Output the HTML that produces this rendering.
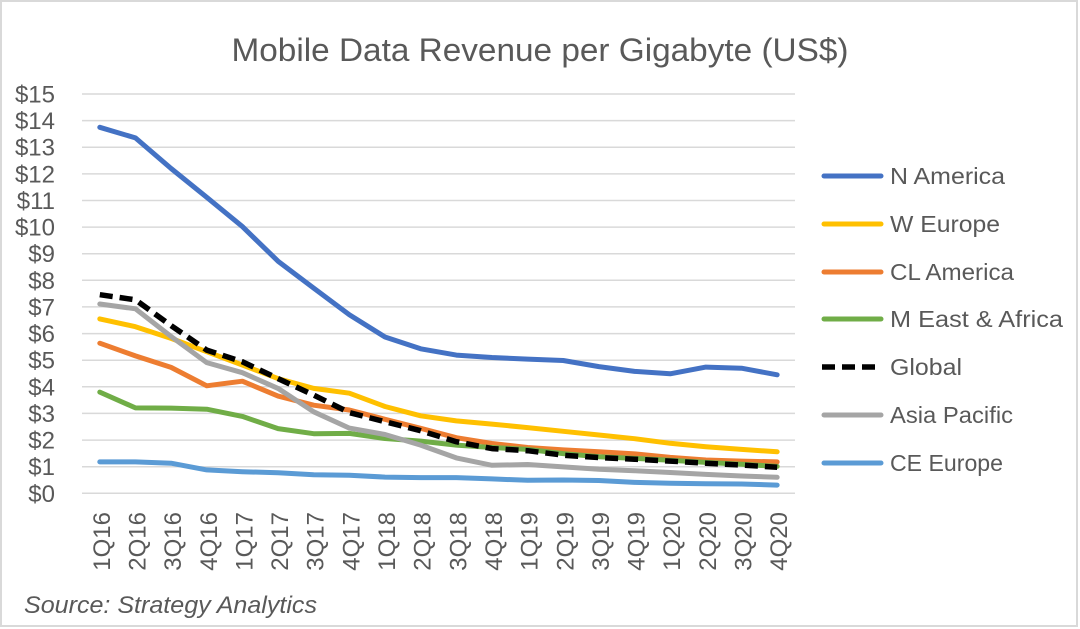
<!DOCTYPE html>
<html>
<head>
<meta charset="utf-8">
<style>
  html, body { margin: 0; padding: 0; background: #ffffff; }
  svg { display: block; }
  text { font-family: "Liberation Sans", sans-serif; fill: #595959; }
</style>
</head>
<body>
<svg width="1080" height="629" viewBox="0 0 1080 629" xmlns="http://www.w3.org/2000/svg">
  <rect x="0" y="0" width="1080" height="629" fill="#ffffff"/>
  <rect x="1" y="1" width="1076" height="625" fill="none" stroke="#d9d9d9" stroke-width="2"/>

  <!-- Title -->
  <text x="540" y="61" font-size="32" text-anchor="middle" textLength="617" lengthAdjust="spacingAndGlyphs">Mobile Data Revenue per Gigabyte (US$)</text>

  <!-- Gridlines -->
  <g stroke="#d9d9d9" stroke-width="1.5">
    <line x1="82" x2="795" y1="493.3" y2="493.3"/>
    <line x1="82" x2="795" y1="466.7" y2="466.7"/>
    <line x1="82" x2="795" y1="440.1" y2="440.1"/>
    <line x1="82" x2="795" y1="413.4" y2="413.4"/>
    <line x1="82" x2="795" y1="386.8" y2="386.8"/>
    <line x1="82" x2="795" y1="360.2" y2="360.2"/>
    <line x1="82" x2="795" y1="333.6" y2="333.6"/>
    <line x1="82" x2="795" y1="306.9" y2="306.9"/>
    <line x1="82" x2="795" y1="280.3" y2="280.3"/>
    <line x1="82" x2="795" y1="253.7" y2="253.7"/>
    <line x1="82" x2="795" y1="227.1" y2="227.1"/>
    <line x1="82" x2="795" y1="200.5" y2="200.5"/>
    <line x1="82" x2="795" y1="173.9" y2="173.9"/>
    <line x1="82" x2="795" y1="147.2" y2="147.2"/>
    <line x1="82" x2="795" y1="120.6" y2="120.6"/>
    <line x1="82" x2="795" y1="94.0" y2="94.0"/>
  </g>

  <!-- Y labels -->
  <g font-size="24" text-anchor="end">
    <text x="55" y="501.8">$0</text>
    <text x="55" y="475.2">$1</text>
    <text x="55" y="448.6">$2</text>
    <text x="55" y="421.9">$3</text>
    <text x="55" y="395.3">$4</text>
    <text x="55" y="368.7">$5</text>
    <text x="55" y="342.1">$6</text>
    <text x="55" y="315.4">$7</text>
    <text x="55" y="288.8">$8</text>
    <text x="55" y="262.2">$9</text>
    <text x="55" y="235.6">$10</text>
    <text x="55" y="209.0">$11</text>
    <text x="55" y="182.4">$12</text>
    <text x="55" y="155.7">$13</text>
    <text x="55" y="129.1">$14</text>
    <text x="55" y="102.5">$15</text>
  </g>

  <!-- X labels -->
  <g font-size="24" text-anchor="end">
    <text transform="translate(109.8,512) rotate(-90)">1Q16</text>
    <text transform="translate(145.45,512) rotate(-90)">2Q16</text>
    <text transform="translate(181.1,512) rotate(-90)">3Q16</text>
    <text transform="translate(216.75,512) rotate(-90)">4Q16</text>
    <text transform="translate(252.4,512) rotate(-90)">1Q17</text>
    <text transform="translate(288.05,512) rotate(-90)">2Q17</text>
    <text transform="translate(323.7,512) rotate(-90)">3Q17</text>
    <text transform="translate(359.35,512) rotate(-90)">4Q17</text>
    <text transform="translate(395.0,512) rotate(-90)">1Q18</text>
    <text transform="translate(430.65,512) rotate(-90)">2Q18</text>
    <text transform="translate(466.3,512) rotate(-90)">3Q18</text>
    <text transform="translate(501.95,512) rotate(-90)">4Q18</text>
    <text transform="translate(537.6,512) rotate(-90)">1Q19</text>
    <text transform="translate(573.25,512) rotate(-90)">2Q19</text>
    <text transform="translate(608.9,512) rotate(-90)">3Q19</text>
    <text transform="translate(644.55,512) rotate(-90)">4Q19</text>
    <text transform="translate(680.2,512) rotate(-90)">1Q20</text>
    <text transform="translate(715.85,512) rotate(-90)">2Q20</text>
    <text transform="translate(751.5,512) rotate(-90)">3Q20</text>
    <text transform="translate(787.15,512) rotate(-90)">4Q20</text>
  </g>

  <!-- Series -->
  <g fill="none" stroke-width="5" stroke-linejoin="round" stroke-linecap="round">
    <!-- N America -->
    <polyline stroke="#4472C4" points="99.8,127.3 135.45,137.9 171.1,168.5 206.75,197.3 242.4,226.6 278.05,261.2 313.7,288.1 349.35,314.7 385.0,337.0 420.65,348.8 456.3,355.1 491.95,357.5 527.6,359.1 563.25,360.5 598.9,366.6 634.55,371.4 670.2,373.8 705.85,367.1 741.5,368.2 777.15,374.8"/>
    <!-- W Europe -->
    <polyline stroke="#FFC000" points="99.8,318.9 135.45,326.7 171.1,338.4 206.75,351.7 242.4,365.0 278.05,378.6 313.7,388.4 349.35,393.2 385.0,406.5 420.65,415.8 456.3,420.9 491.95,424.1 527.6,427.6 563.25,431.3 598.9,435.0 634.55,438.7 670.2,443.3 705.85,446.7 741.5,449.4 777.15,451.8"/>
    <!-- CL America -->
    <polyline stroke="#ED7D31" points="99.8,343.2 135.45,355.9 171.1,367.4 206.75,385.8 242.4,381.2 278.05,396.1 313.7,405.2 349.35,410.0 385.0,419.3 420.65,428.3 456.3,437.7 491.95,443.5 527.6,447.5 563.25,449.9 598.9,451.8 634.55,453.9 670.2,457.4 705.85,460.0 741.5,461.1 777.15,461.9"/>
    <!-- M East & Africa -->
    <polyline stroke="#70AD47" points="99.8,392.1 135.45,407.9 171.1,408.1 206.75,409.2 242.4,416.4 278.05,428.6 313.7,433.7 349.35,433.4 385.0,438.5 420.65,441.1 456.3,445.1 491.95,447.5 527.6,449.4 563.25,453.6 598.9,456.8 634.55,458.4 670.2,460.3 705.85,462.4 741.5,464.3 777.15,466.4"/>
    <!-- Global -->
    <polyline stroke="#000000" stroke-linecap="butt" stroke-dasharray="13 7" stroke-width="5.5" points="99.8,294.7 135.45,299.8 171.1,325.6 206.75,350.1 242.4,361.8 278.05,378.6 313.7,395.1 349.35,412.6 385.0,421.7 420.65,430.7 456.3,441.7 491.95,448.6 527.6,450.7 563.25,455.2 598.9,457.6 634.55,459.2 670.2,461.1 705.85,463.2 741.5,465.1 777.15,467.2"/>
    <!-- Asia Pacific -->
    <polyline stroke="#A5A5A5" points="99.8,304.0 135.45,308.8 171.1,336.5 206.75,362.6 242.4,372.7 278.05,388.4 313.7,411.8 349.35,428.1 385.0,434.5 420.65,445.1 456.3,457.9 491.95,465.3 527.6,464.5 563.25,466.9 598.9,469.3 634.55,470.7 670.2,472.5 705.85,474.4 741.5,476.0 777.15,477.3"/>
    <!-- CE Europe -->
    <polyline stroke="#5B9BD5" points="99.8,461.9 135.45,461.9 171.1,463.2 206.75,469.9 242.4,471.7 278.05,472.8 313.7,474.7 349.35,475.2 385.0,477.1 420.65,477.6 456.3,477.6 491.95,478.9 527.6,480.3 563.25,480.0 598.9,480.5 634.55,482.4 670.2,483.2 705.85,483.7 741.5,484.0 777.15,485.1"/>
  </g>

  <!-- Legend -->
  <g stroke-width="5" stroke-linecap="round">
    <line x1="824" x2="881" y1="176" y2="176" stroke="#4472C4"/>
    <line x1="824" x2="881" y1="224" y2="224" stroke="#FFC000"/>
    <line x1="824" x2="881" y1="272" y2="272" stroke="#ED7D31"/>
    <line x1="824" x2="881" y1="319" y2="319" stroke="#70AD47"/>
    <line x1="822" x2="878" y1="367" y2="367" stroke="#000000" stroke-linecap="butt" stroke-dasharray="13 7" stroke-width="5.5"/>
    <line x1="824" x2="881" y1="415" y2="415" stroke="#A5A5A5"/>
    <line x1="824" x2="881" y1="463" y2="463" stroke="#5B9BD5"/>
  </g>
  <g font-size="23">
    <text x="890" y="184" textLength="115" lengthAdjust="spacingAndGlyphs">N America</text>
    <text x="890" y="232" textLength="110" lengthAdjust="spacingAndGlyphs">W Europe</text>
    <text x="890" y="280" textLength="124" lengthAdjust="spacingAndGlyphs">CL America</text>
    <text x="890" y="327" textLength="173" lengthAdjust="spacingAndGlyphs">M East &amp; Africa</text>
    <text x="890" y="375" textLength="72" lengthAdjust="spacingAndGlyphs">Global</text>
    <text x="890" y="423" textLength="123" lengthAdjust="spacingAndGlyphs">Asia Pacific</text>
    <text x="890" y="471" textLength="113" lengthAdjust="spacingAndGlyphs">CE Europe</text>
  </g>

  <!-- Source -->
  <text x="24" y="613" font-size="24" font-style="italic" textLength="293" lengthAdjust="spacingAndGlyphs">Source: Strategy Analytics</text>
</svg>
</body>
</html>
